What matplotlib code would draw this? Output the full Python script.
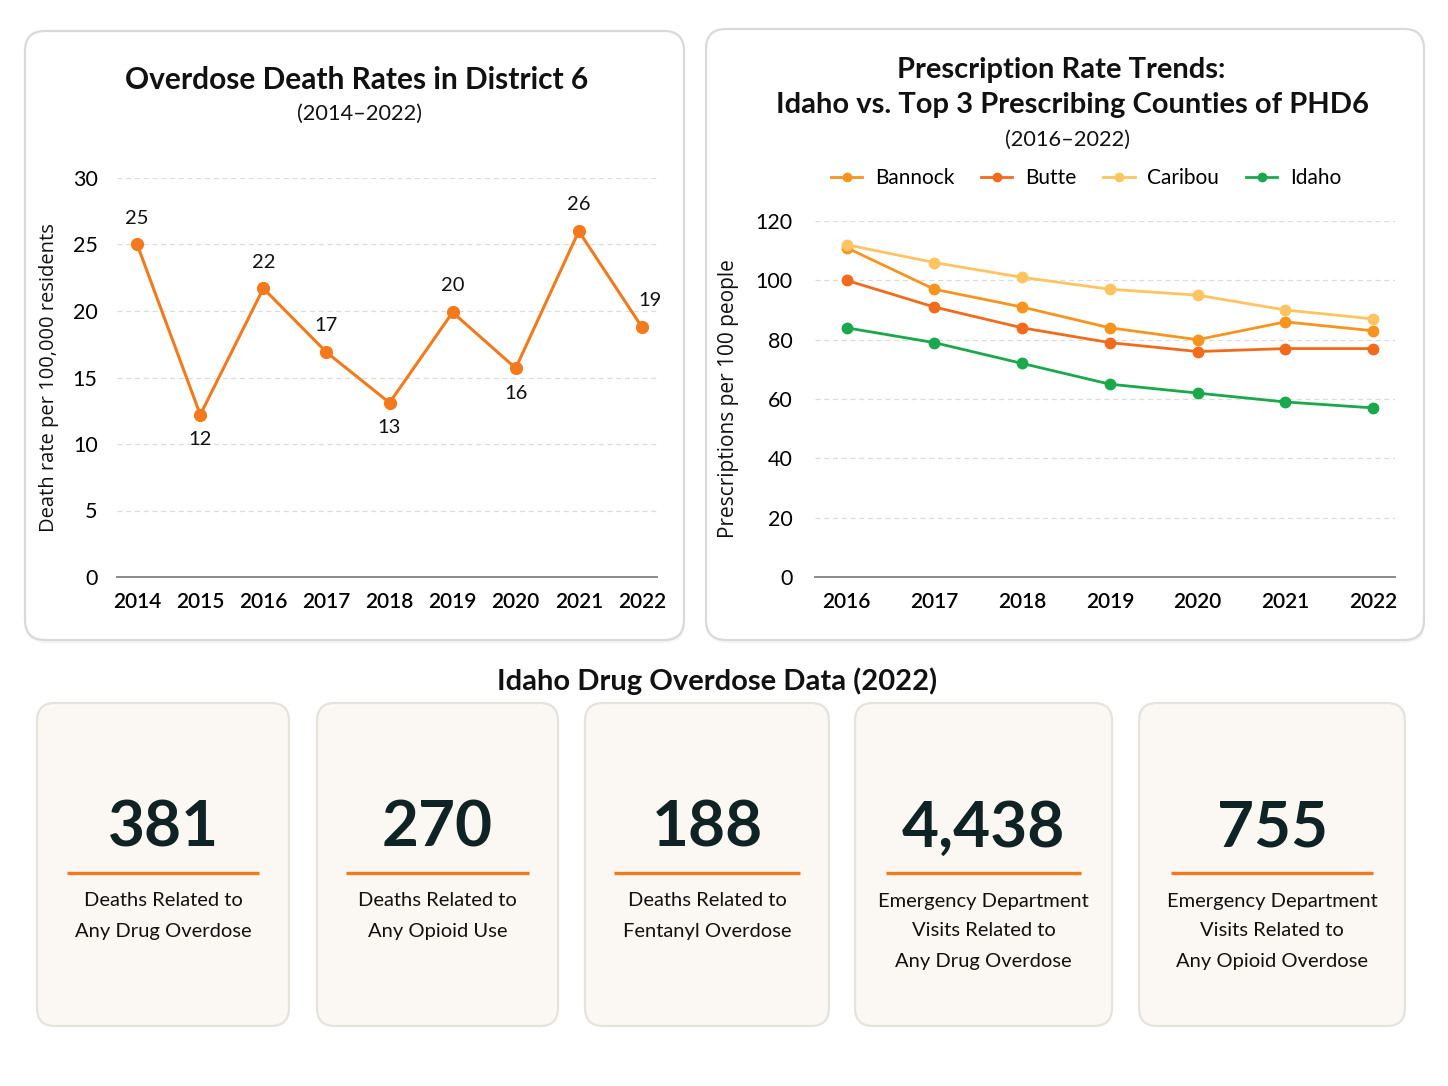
import matplotlib
matplotlib.use('Agg')
import matplotlib.pyplot as plt
from matplotlib.patches import FancyBboxPatch

plt.rcParams['font.family'] = ['Lato', 'DejaVu Sans']

# ---------------- data ----------------
years_left = [2014, 2015, 2016, 2017, 2018, 2019, 2020, 2021, 2022]
death_rates = [25.0, 12.2, 21.7, 16.9, 13.1, 19.9, 15.7, 26.0, 18.8]
label_side = ['above', 'below', 'above', 'above', 'below', 'above', 'below', 'above', 'above']

years_right = [2016, 2017, 2018, 2019, 2020, 2021, 2022]
bannock = [111, 97, 91, 84, 80, 86, 83]
butte = [100, 91, 84, 79, 76, 77, 77]
caribou = [112, 106, 101, 97, 95, 90, 87]
idaho = [84, 79, 72, 65, 62, 59, 57]
series_names = ['Bannock', 'Butte', 'Caribou', 'Idaho']

card_values = [381, 270, 188, 4438, 755]
card_labels = [
    "Deaths Related to\nAny Drug Overdose",
    "Deaths Related to\nAny Opioid Use",
    "Deaths Related to\nFentanyl Overdose",
    "Emergency Department\nVisits Related to\nAny Drug Overdose",
    "Emergency Department\nVisits Related to\nAny Opioid Overdose",
]

# ---------------- style ----------------
ORANGE = '#F27A1C'
series_colors = {'Bannock': '#F7941D', 'Butte': '#F26A1B', 'Caribou': '#FDC460', 'Idaho': '#19A84B'}
DARK = '#111111'
GRID = '#DCDCDC'

W, H = 1448, 1086
fig = plt.figure(figsize=(W / 100, H / 100), dpi=100)
fig.patch.set_facecolor('white')

bg = fig.add_axes([0, 0, 1, 1], zorder=0)
bg.set_xlim(0, W)
bg.set_ylim(H, 0)
bg.axis('off')


def panel(x0, y0, x1, y1, r, fc, ec, shadow=True):
    if shadow:
        bg.add_patch(FancyBboxPatch((x0 + 1, y0 + 3), x1 - x0, y1 - y0,
                                    boxstyle=f"round,pad=0,rounding_size={r}",
                                    fc='#000000', ec='none', alpha=0.04))
    bg.add_patch(FancyBboxPatch((x0, y0), x1 - x0, y1 - y0,
                                boxstyle=f"round,pad=0,rounding_size={r}",
                                fc=fc, ec=ec, lw=1.6))


def px_axes(x0, y0, x1, y1):
    a = fig.add_axes([x0 / W, 1 - y1 / H, (x1 - x0) / W, (y1 - y0) / H], zorder=2)
    a.set_facecolor('none')
    return a


# top panels
panel(25, 31, 684, 640, 20, 'white', '#D9D9D9')
panel(706, 29, 1424, 640, 20, 'white', '#D9D9D9')

# ---------------- left chart ----------------
bg.text(357, 80, "Overdose Death Rates in District 6", ha='center', va='center',
        fontsize=21.5, fontweight='bold', color=DARK)
bg.text(360, 114, "(2014\u20132022)", ha='center', va='center', fontsize=15.7, color=DARK)

ax1 = px_axes(117, 178, 657, 577)
ax1.plot(years_left, death_rates, color=ORANGE, lw=2.2, marker='o', ms=8.5,
         clip_on=False, zorder=3)
for x, v, side in zip(years_left, death_rates, label_side):
    dy = 19 if side == 'above' else -18
    dx = 6 if x == years_left[-1] else 0
    ax1.annotate(f"{round(v)}", (x, v), xytext=(dx, dy), textcoords='offset points',
                 ha='center', va='center', fontsize=14.5, color=DARK)
ax1.set_xlim(2013.68, 2022.24)
ax1.set_ylim(0, 30)
ax1.set_xticks(years_left)
ax1.set_xticklabels([str(y) for y in years_left], fontsize=15, fontweight='semibold')
ax1.set_yticks(range(0, 31, 5))
ax1.tick_params(axis='y', length=0, pad=14, labelsize=15.5)
ax1.tick_params(axis='x', length=0, pad=11)
ax1.grid(axis='y', color=GRID, ls=(0, (4, 3)), lw=0.9)
ax1.set_axisbelow(True)
for s in ['left', 'right', 'top']:
    ax1.spines[s].set_visible(False)
ax1.spines['bottom'].set_color('#8A8A8A')
ax1.spines['bottom'].set_linewidth(1.4)
ax1.set_ylabel("Death rate per 100,000 residents", fontsize=14.5, color=DARK,
               family=['Open Sans', 'DejaVu Sans'], labelpad=10)

# ---------------- right chart ----------------
bg.text(1061, 70, "Prescription Rate Trends:", ha='center', va='center',
        fontsize=21, fontweight='bold', color=DARK)
bg.text(1073, 105, "Idaho vs. Top 3 Prescribing Counties of PHD6", ha='center', va='center',
        fontsize=21, fontweight='bold', color=DARK)
bg.text(1067, 140, "(2016\u20132022)", ha='center', va='center', fontsize=15.7, color=DARK)

ax2 = px_axes(815, 221, 1395, 577)
for name, vals in zip(series_names, [bannock, butte, caribou, idaho]):
    ax2.plot(years_right, vals, color=series_colors[name], lw=2.0, marker='o', ms=7.5,
             label=name, clip_on=False, zorder=3)
ax2.set_xlim(2015.64, 2022.25)
ax2.set_ylim(0, 120)
ax2.set_xticks(years_right)
ax2.set_xticklabels([str(y) for y in years_right], fontsize=15, fontweight='semibold')
ax2.set_yticks(range(0, 121, 20))
ax2.tick_params(axis='y', length=0, pad=16, labelsize=15.5)
ax2.tick_params(axis='x', length=0, pad=11)
ax2.grid(axis='y', color=GRID, ls=(0, (4, 3)), lw=0.9)
ax2.set_axisbelow(True)
for s in ['left', 'right', 'top']:
    ax2.spines[s].set_visible(False)
ax2.spines['bottom'].set_color('#8A8A8A')
ax2.spines['bottom'].set_linewidth(1.4)
ax2.set_ylabel("Prescriptions per 100 people", fontsize=15, color=DARK,
               family=['Open Sans', 'DejaVu Sans'], labelpad=12)
ax2.legend(loc='center', bbox_to_anchor=(1086 / W, 1 - 178 / H), bbox_transform=fig.transFigure,
           ncol=4, frameon=False, fontsize=15, handlelength=1.5, handletextpad=0.6,
           columnspacing=1.3, markerscale=0.8)

# ---------------- bottom cards ----------------
bg.text(717, 681, "Idaho Drug Overdose Data (2022)", ha='center', va='center',
        fontsize=21, fontweight='bold', color=DARK)

card_boxes = [(37, 289), (317, 558), (585, 829), (855, 1112), (1139, 1405)]
for (x0, x1), val, lab in zip(card_boxes, card_values, card_labels):
    panel(x0, 703, x1, 1026, 18, '#FBF8F3', '#E6E2DC', shadow=False)
    cx = (x0 + x1) / 2
    bg.text(cx, 828, f"{val:,}", ha='center', va='center', fontsize=46,
            fontweight='bold', color='#0F2224')
    half = (x1 - x0) * 0.38
    bg.plot([cx - half, cx + half], [873, 873], color=ORANGE, lw=2.4, solid_capstyle='butt')
    for i, line in enumerate(lab.split('\n')):
        bg.text(cx, 901 + 30 * i, line, ha='center', va='center', fontsize=14.5, color=DARK)

fig.savefig('out.png', dpi=100, facecolor='white')
